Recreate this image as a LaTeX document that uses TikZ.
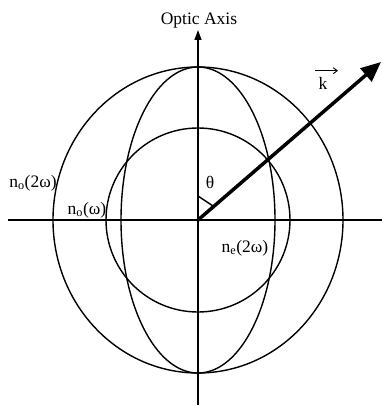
\documentclass[tikz,border=0pt]{standalone}
\usepackage{fontspec}
\setmainfont{Liberation Serif}
\usetikzlibrary{arrows.meta}
\begin{document}
\begin{tikzpicture}[x=1pt,y=-1pt,
  curve/.style={line width=1.4pt},
  axis/.style={line width=1.4pt},
  lbl/.style={inner sep=0pt,font=\fontsize{17.5}{20}\selectfont}]
\useasboundingbox (0,0) rectangle (382,406);
\coordinate (O) at (198,220);
\coordinate (L) at (8,220);
\coordinate (R) at (382,220);
\coordinate (B) at (198,405);
\coordinate (T) at (198,30);
\coordinate (K) at (381,62);
\draw[axis] (L) -- (R);
\draw[axis,-{Triangle[length=10pt,width=7pt]}] (B) -- (T);
\draw[curve] (O) ellipse [x radius=145, y radius=153];
\draw[curve] (O) circle [radius=92];
\draw[curve] (O) ellipse [x radius=77, y radius=153];
\draw[line width=3.5pt,-{Triangle[length=20pt,width=17pt]}] (O) -- (K);
\coordinate (A1) at (198,196);
\coordinate (A2) at (213,206);
\draw[line width=1.4pt] (A1) -- (A2);
\node[lbl] (opt) at (199,21) {Optic Axis};
\node[lbl] (no2) at (33,183) {n\textsubscript{o}(2ω)};
\node[lbl] (no1) at (87,210) {n\textsubscript{o}(ω)};
\node[lbl] (ne2) at (245,248) {n\textsubscript{e}(2ω)};
\node[lbl] (th) at (210,182) {θ};
\node[lbl] (k) at (323,83) {k};
\coordinate (kv1) at ([xshift=-8pt,yshift=6pt]k.north);
\coordinate (kv2) at ([xshift=15pt,yshift=6pt]k.north);
\draw[line width=0.9pt,-{Straight Barb[length=4pt,width=6pt]}] (kv1) -- (kv2);
\end{tikzpicture}
\end{document}
